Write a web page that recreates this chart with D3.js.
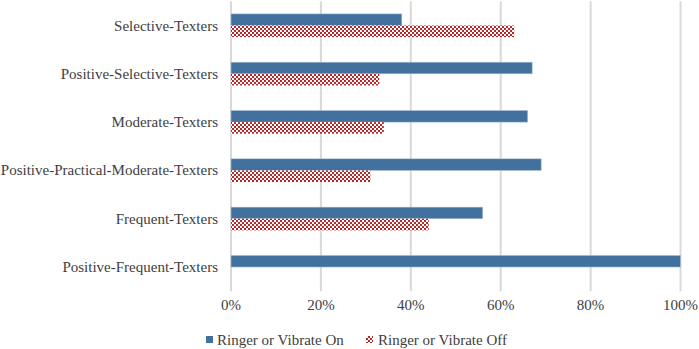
<!DOCTYPE html>
<html><head><meta charset="utf-8">
<script src="https://cdn.jsdelivr.net/npm/d3@7"></script>
</head><body style="margin:0;background:#fff"><svg id="c" width="699" height="349" font-family="Liberation Serif" style="display:block"></svg>
<script>
const categories = ["Selective-Texters","Positive-Selective-Texters","Moderate-Texters","Positive-Practical-Moderate-Texters","Frequent-Texters","Positive-Frequent-Texters"];
const ringerOn = [38, 67, 66, 69, 56, 100];
const ringerOff = [63, 33, 34, 31, 44, 0];
const seriesNames = ["Ringer or Vibrate On","Ringer or Vibrate Off"];
const tickValues = [0,20,40,60,80,100];

(function(){
const svg = d3.select("#c");
const pLeft = 231, pRight = 680.5, pTop = 1.35, pBottom = 291.2;
const x = d3.scaleLinear().domain([0,100]).range([pLeft,pRight]);
const y = d3.scaleBand().domain(categories).range([pTop,pBottom]);
const barH = 11.6;

const defs = svg.append("defs");
const pat = defs.append("pattern").attr("id","chk").attr("width",4).attr("height",4).attr("patternUnits","userSpaceOnUse");
pat.append("rect").attr("width",4).attr("height",4).attr("fill","#ffffff");
pat.append("rect").attr("x",0).attr("y",0).attr("width",2).attr("height",2).attr("fill","#b52a26");
pat.append("rect").attr("x",2).attr("y",2).attr("width",2).attr("height",2).attr("fill","#b52a26");

svg.append("g").selectAll("line").data(tickValues).join("line")
  .attr("x1",d=>x(d)).attr("x2",d=>x(d)).attr("y1",pTop).attr("y2",pBottom)
  .attr("stroke","#d9d9d9").attr("stroke-width",2);

const txt = sel => sel.attr("font-family","Liberation Serif").attr("font-size",15).attr("fill","#404040");

svg.append("g").selectAll("text").data(tickValues).join("text")
  .attr("x",d=>x(d)).attr("y",310).attr("text-anchor","middle").call(txt)
  .text(d=>d+"%");

svg.append("g").selectAll("text").data(categories).join("text")
  .attr("x",218).attr("y",d=>y(d)+y.bandwidth()/2+5).attr("text-anchor","end").call(txt)
  .text(d=>d);

const g = svg.append("g");
g.selectAll("rect.on").data(categories).join("rect").attr("class","on")
  .attr("x",x(0)).attr("y",d=>y(d)+y.bandwidth()/2-barH)
  .attr("width",(d,i)=>x(ringerOn[i])-x(0)).attr("height",barH)
  .attr("fill","#41719c").attr("stroke","#a9bfd6").attr("stroke-width",0.6);
g.selectAll("rect.off").data(categories).join("rect").attr("class","off")
  .attr("x",x(0)).attr("y",d=>y(d)+y.bandwidth()/2)
  .attr("width",(d,i)=>x(ringerOff[i])-x(0)).attr("height",barH)
  .attr("fill","url(#chk)");

const lg = svg.append("g");
lg.append("rect").attr("x",206).attr("y",336).attr("width",7).attr("height",7).attr("fill","#41719c");
lg.append("text").attr("x",217).attr("y",345).call(txt).text(seriesNames[0]);
lg.append("rect").attr("x",366).attr("y",336).attr("width",7).attr("height",7).attr("fill","url(#chk)");
lg.append("text").attr("x",378).attr("y",345).call(txt).text(seriesNames[1]);
})();
</script></body></html>
